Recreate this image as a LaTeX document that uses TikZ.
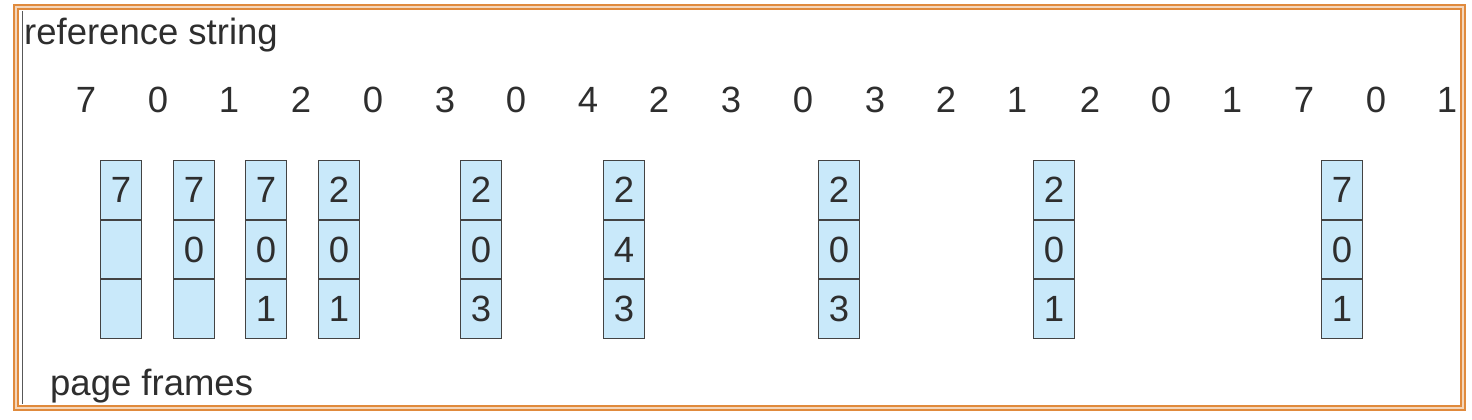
\documentclass[tikz,border=0pt]{standalone}
\usepackage{fontspec}
\setmainfont{Liberation Sans}
\usepackage{xcolor}
\usepackage{tikz}
\usetikzlibrary{positioning}
\definecolor{frameorange}{HTML}{E08A3C}
\definecolor{cellblue}{HTML}{C9E9FA}
\definecolor{inkgray}{HTML}{2E2E2E}
\tikzset{every node/.append style={text=inkgray, font=\fontsize{36.5}{44}\selectfont}}
\tikzset{cell/.style={draw=inkgray!90, line width=1.2, fill=cellblue, minimum width=41, minimum height=58.3, inner sep=0}}
\tikzset{refnum/.style={anchor=base, inner sep=0}}

\begin{document}
\begin{tikzpicture}[x=1pt,y=-1pt]
              \useasboundingbox (0,0) rectangle (1472,420);
              \draw[draw=frameorange, line width=2, double=frameorange!35, double distance=2] (16,7) rectangle (1463,408);
              \draw[inkgray!80, line width=1] (22,11) -- (22,404);

              \node[anchor=base west, inner sep=0] at (24,45) (title) {reference string};
              \node[anchor=base west, inner sep=0] at (50,395) (frames) {page frames};

              % reference string
              \node[refnum] at (86,112) (r1) {7};
              \node[refnum] at (158,112) (r2) {0};
              \node[refnum] at (229,112) (r3) {1};
              \node[refnum] at (301,112) (r4) {2};
              \node[refnum] at (373,112) (r5) {0};
              \node[refnum] at (445,112) (r6) {3};
              \node[refnum] at (516,112) (r7) {0};
              \node[refnum] at (588,112) (r8) {4};
              \node[refnum] at (659,112) (r9) {2};
              \node[refnum] at (731,112) (r10) {3};
              \node[refnum] at (803,112) (r11) {0};
              \node[refnum] at (875,112) (r12) {3};
              \node[refnum] at (946,112) (r13) {2};
              \node[refnum] at (1017,112) (r14) {1};
              \node[refnum] at (1090,112) (r15) {2};
              \node[refnum] at (1161,112) (r16) {0};
              \node[refnum] at (1232,112) (r17) {1};
              \node[refnum] at (1304,112) (r18) {7};
              \node[refnum] at (1376,112) (r19) {0};
              \node[refnum] at (1447,112) (r20) {1};

              % frames
              \node[cell] at (121,190) (f1a) {7};
              \node[cell, below=0 of f1a] (f1b) {};
              \node[cell, below=0 of f1b] (f1c) {};
              \node[cell] at (194,190) (f2a) {7};
              \node[cell, below=0 of f2a] (f2b) {0};
              \node[cell, below=0 of f2b] (f2c) {};
              \node[cell] at (266,190) (f3a) {7};
              \node[cell, below=0 of f3a] (f3b) {0};
              \node[cell, below=0 of f3b] (f3c) {1};
              \node[cell] at (339,190) (f4a) {2};
              \node[cell, below=0 of f4a] (f4b) {0};
              \node[cell, below=0 of f4b] (f4c) {1};
              \node[cell] at (481,190) (f5a) {2};
              \node[cell, below=0 of f5a] (f5b) {0};
              \node[cell, below=0 of f5b] (f5c) {3};
              \node[cell] at (624,190) (f6a) {2};
              \node[cell, below=0 of f6a] (f6b) {4};
              \node[cell, below=0 of f6b] (f6c) {3};
              \node[cell] at (839,190) (f7a) {2};
              \node[cell, below=0 of f7a] (f7b) {0};
              \node[cell, below=0 of f7b] (f7c) {3};
              \node[cell] at (1054,190) (f8a) {2};
              \node[cell, below=0 of f8a] (f8b) {0};
              \node[cell, below=0 of f8b] (f8c) {1};
              \node[cell] at (1342,190) (f9a) {7};
              \node[cell, below=0 of f9a] (f9b) {0};
              \node[cell, below=0 of f9b] (f9c) {1};
            \end{tikzpicture}
\end{document}
